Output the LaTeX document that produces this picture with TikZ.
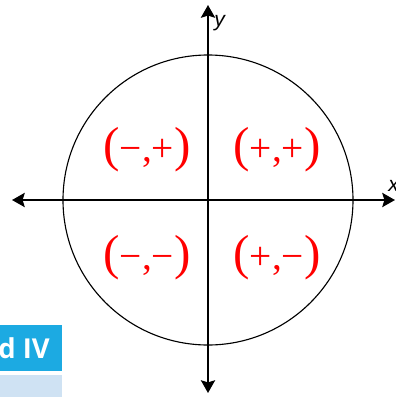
\documentclass[tikz,border=0pt]{standalone}
\usepackage{fontspec}
\setmainfont{Liberation Serif}
\newfontfamily\labelfont{Liberation Sans}
\newfontfamily\tabfont{Open Sans}
\usetikzlibrary{arrows.meta}
\definecolor{cSign}{HTML}{FF0000}
\definecolor{cTab}{HTML}{1CAAE2}
\definecolor{cTabLight}{HTML}{CFE2F3}
\newcommand{\pl}{{\fontsize{35}{36}\selectfont(}}
\newcommand{\pr}{{\fontsize{35}{36}\selectfont)}}
\tikzset{
  axis/.style={{Stealth[length=9pt,width=10pt,inset=1.5pt]}-{Stealth[length=9pt,width=10pt,inset=1.5pt]},line width=2.1pt},
  sign/.style={font=\fontsize{28}{30}\selectfont,text=cSign,inner sep=0pt},
  axlabel/.style={font=\labelfont\itshape\fontsize{15}{16}\selectfont,inner sep=0pt}
}

\begin{document}
\begin{tikzpicture}[x=0.025cm,y=-0.025cm]
  \useasboundingbox (0,0) rectangle (396,397);

  % slide tab left over at the bottom left
  \fill[cTab] (0,325) rectangle (62,371);
  \fill[cTabLight] (0,375) rectangle (62,397);
  \node[anchor=east,inner sep=0pt,text=white,font=\tabfont\bfseries\fontsize{19.5}{21}\selectfont] (tab) at (50,348) {d IV};

  % circle and axes
  \coordinate (O) at (208,200);
  \draw[line width=0.8pt] (O) circle[radius=145];
  \coordinate (xl) at (12,200);
  \coordinate (xr) at (395,200);
  \coordinate (yt) at (208,5);
  \coordinate (yb) at (208,393);
  \draw[axis] (xl) -- (xr);
  \draw[axis] (yb) -- (yt);
  \node[axlabel,anchor=west] (ylab) at (214,23) {y};
  \node[axlabel,anchor=west] (xlab) at (388,186) {x};

  % signs of the quadrants
  \node[sign] (q2) at (147,150) {\pl−,+\pr};
  \node[sign] (q1) at (277,150) {\pl+,+\pr};
  \node[sign] (q3) at (147,258) {\pl−,−\pr};
  \node[sign] (q4) at (277,258) {\pl+,−\pr};
\end{tikzpicture}
\end{document}
